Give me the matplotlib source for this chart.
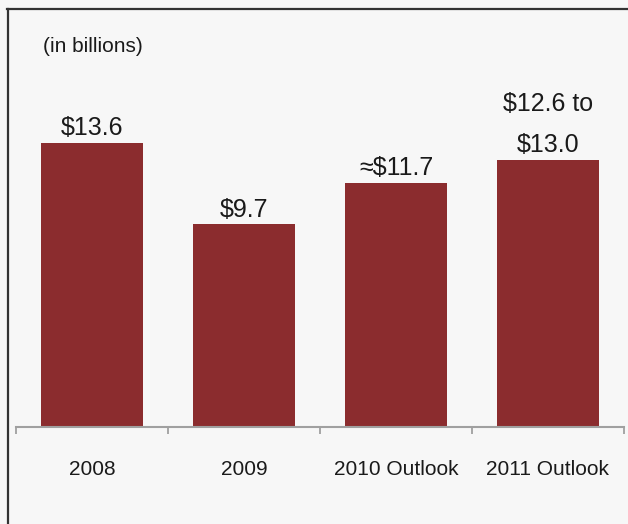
import matplotlib.pyplot as plt
from matplotlib.lines import Line2D

plt.rcParams['font.family'] = ['Liberation Sans', 'DejaVu Sans']

categories = ['2008', '2009', '2010 Outlook', '2011 Outlook']
values = [13.6, 9.7, 11.7, 12.8]   # 2011 drawn at the middle of the $12.6-$13.0 range
value_labels = ['$13.6', '$9.7', '\u2248$11.7', '$12.6 to\n$13.0']

bar_color = '#8b2c2e'
bg = '#f7f7f7'

fig = plt.figure(figsize=(6.28, 5.24), dpi=100, facecolor=bg)
ax = fig.add_axes([16 / 628, 97 / 524, 608 / 628, 397 / 524])
ax.set_facecolor(bg)

x = range(len(categories))
bars = ax.bar(x, values, width=0.67, color=bar_color)

for bar, lab in zip(bars, value_labels):
    ax.annotate(lab, (bar.get_x() + bar.get_width() / 2, bar.get_height()),
                xytext=(0, 2), textcoords='offset points',
                ha='center', va='bottom', fontsize=18, color='#1a1a1a',
                linespacing=1.9)

ax.set_xlim(-0.5, 3.5)
ax.set_ylim(0, 19)

# category labels centred, separator ticks between categories
ax.set_xticks(list(x))
ax.set_xticklabels(categories, fontsize=15, color='#1a1a1a')
ax.set_xticks([-0.5, 0.5, 1.5, 2.5, 3.5], minor=True)
ax.tick_params(axis='x', which='major', length=0, pad=24)
ax.tick_params(axis='x', which='minor', length=5, width=1.2, color='#999999')
ax.set_yticks([])

for s in ['left', 'right', 'top']:
    ax.spines[s].set_visible(False)
ax.spines['bottom'].set_color('#a0a0a0')
ax.spines['bottom'].set_linewidth(1.5)

fig.text(43 / 628, 1 - 46 / 524, '(in billions)', fontsize=15,
         color='#1a1a1a', ha='left', va='center')

# frame along the top and left edges
fig.add_artist(Line2D([7 / 628, 1], [1 - 8.5 / 524, 1 - 8.5 / 524],
                      transform=fig.transFigure, color='#333333', lw=1.6))
fig.add_artist(Line2D([7.5 / 628, 7.5 / 628], [0, 1 - 8.5 / 524],
                      transform=fig.transFigure, color='#333333', lw=1.6))

fig.savefig('out.png', dpi=100, facecolor=bg)
